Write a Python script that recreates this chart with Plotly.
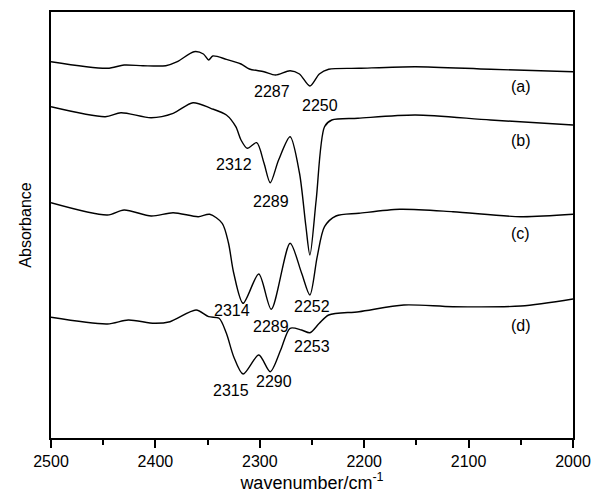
import plotly.graph_objects as go

# wavenumbers (cm^-1) and absorbance (arbitrary units, offset spectra)
wn_a = [2500, 2446, 2430, 2412, 2390, 2379, 2363, 2354, 2349, 2345, 2332, 2318, 2310, 2296, 2285, 2271, 2262, 2252, 2243, 2234, 2205, 2151, 2079, 2000]
px_a = [61.7, 68.3, 65, 65.7, 65.7, 61.7, 51.7, 54, 60, 56, 59.3, 64, 69, 71.7, 75, 70.7, 74, 86, 74, 69.3, 68.3, 66.7, 69.3, 71.7]

wn_b = [2500, 2448, 2433, 2404, 2383, 2364, 2347, 2332, 2323, 2318, 2312, 2303, 2296, 2290, 2282, 2271, 2262, 2256, 2252, 2246, 2238, 2231, 2206, 2151, 2079, 2000]
px_b = [106.7, 116.7, 112.7, 117.7, 113.3, 102.7, 108.3, 115, 126.7, 140, 148.3, 142.7, 163, 182.7, 160, 136.7, 173, 225, 255, 200, 126.7, 120, 118.3, 115, 120, 125]

wn_c = [2500, 2446, 2430, 2404, 2383, 2359, 2348, 2336, 2330, 2325, 2316, 2301, 2289, 2271, 2260, 2252, 2245, 2238, 2227, 2205, 2166, 2115, 2050, 2000]
px_c = [202.7, 215, 210, 216, 212.7, 216.7, 214.3, 223.3, 243, 273, 303.3, 274, 309.3, 243.3, 273, 295, 256.7, 226.7, 216, 213.3, 209.3, 211.7, 216.7, 214.3]

wn_d = [2500, 2446, 2426, 2401, 2386, 2361, 2349, 2339, 2332, 2325, 2316, 2301, 2290, 2280, 2271, 2260, 2252, 2243, 2234, 2205, 2162, 2115, 2050, 2000]
px_d = [317.3, 324, 320, 323.3, 321.7, 310, 316.7, 318.3, 333.3, 356.7, 374, 355, 371.7, 350, 328.3, 330, 332.7, 323.3, 315, 311.7, 305, 306.7, 306, 299]

# peak labels: text, wavenumber position, vertical position (same units as px)
lab_text = ["2287", "2250", "2312", "2289", "2314", "2252", "2289", "2253", "2315", "2290"]
lab_wn = [2288, 2242, 2325, 2289, 2327, 2250, 2289, 2250, 2328, 2286]
lab_px = [91.7, 105, 164.3, 201.7, 310, 306, 326.7, 346, 390.7, 381.7]

curve_names = ["(a)", "(b)", "(c)", "(d)"]
name_wn = [2050, 2050, 2050, 2050]
name_px = [86.7, 140, 233.3, 325]

x_ticks = [2500, 2400, 2300, 2200, 2100, 2000]

def to_abs(vals):
    return [(438 - v) / 100 for v in vals]

fig = go.Figure()
for wn, px in [(wn_a, px_a), (wn_b, px_b), (wn_c, px_c), (wn_d, px_d)]:
    fig.add_trace(go.Scatter(x=wn, y=to_abs(px), mode="lines",
                             line=dict(color="black", width=1.4, shape="spline", smoothing=0.8),
                             showlegend=False, hoverinfo="skip"))

font = dict(family="Liberation Sans, Arial, sans-serif", size=16, color="black")
for t, w, p in zip(lab_text, lab_wn, lab_px):
    fig.add_annotation(x=w, y=(438 - p) / 100, text=t, showarrow=False, font=font)
for t, w, p in zip(curve_names, name_wn, name_px):
    fig.add_annotation(x=w, y=(438 - p) / 100, text=t, showarrow=False, font=font)

fig.update_layout(
    width=592, height=501,
    margin=dict(l=51, r=19, t=12, b=63),
    paper_bgcolor="white", plot_bgcolor="white",
    font=font,
    xaxis=dict(range=[2500, 2000], tickvals=x_ticks, ticks="outside", ticklen=8, tickwidth=1.5,
               tickcolor="black", showline=True, linecolor="black", linewidth=1.5, mirror=True,
               showgrid=False, zeroline=False, automargin=False,
               minor=dict(dtick=50, ticks="outside", ticklen=5, tickwidth=1.5, tickcolor="black", showgrid=False),
               title=dict(text="wavenumber/cm<sup>-1</sup>", font=dict(size=18), standoff=4),
               tickfont=dict(size=16)),
    yaxis=dict(range=[0, 4.26], showticklabels=False, ticks="", showline=True, linecolor="black",
               linewidth=1.5, mirror=True, showgrid=False, zeroline=False, automargin=False,
               title=dict(text="Absorbance", font=dict(size=16), standoff=14)),
)

fig.write_html("out.html", config={"displayModeBar": False},
               post_script="document.body.style.margin='0';document.body.style.overflow='hidden';")
